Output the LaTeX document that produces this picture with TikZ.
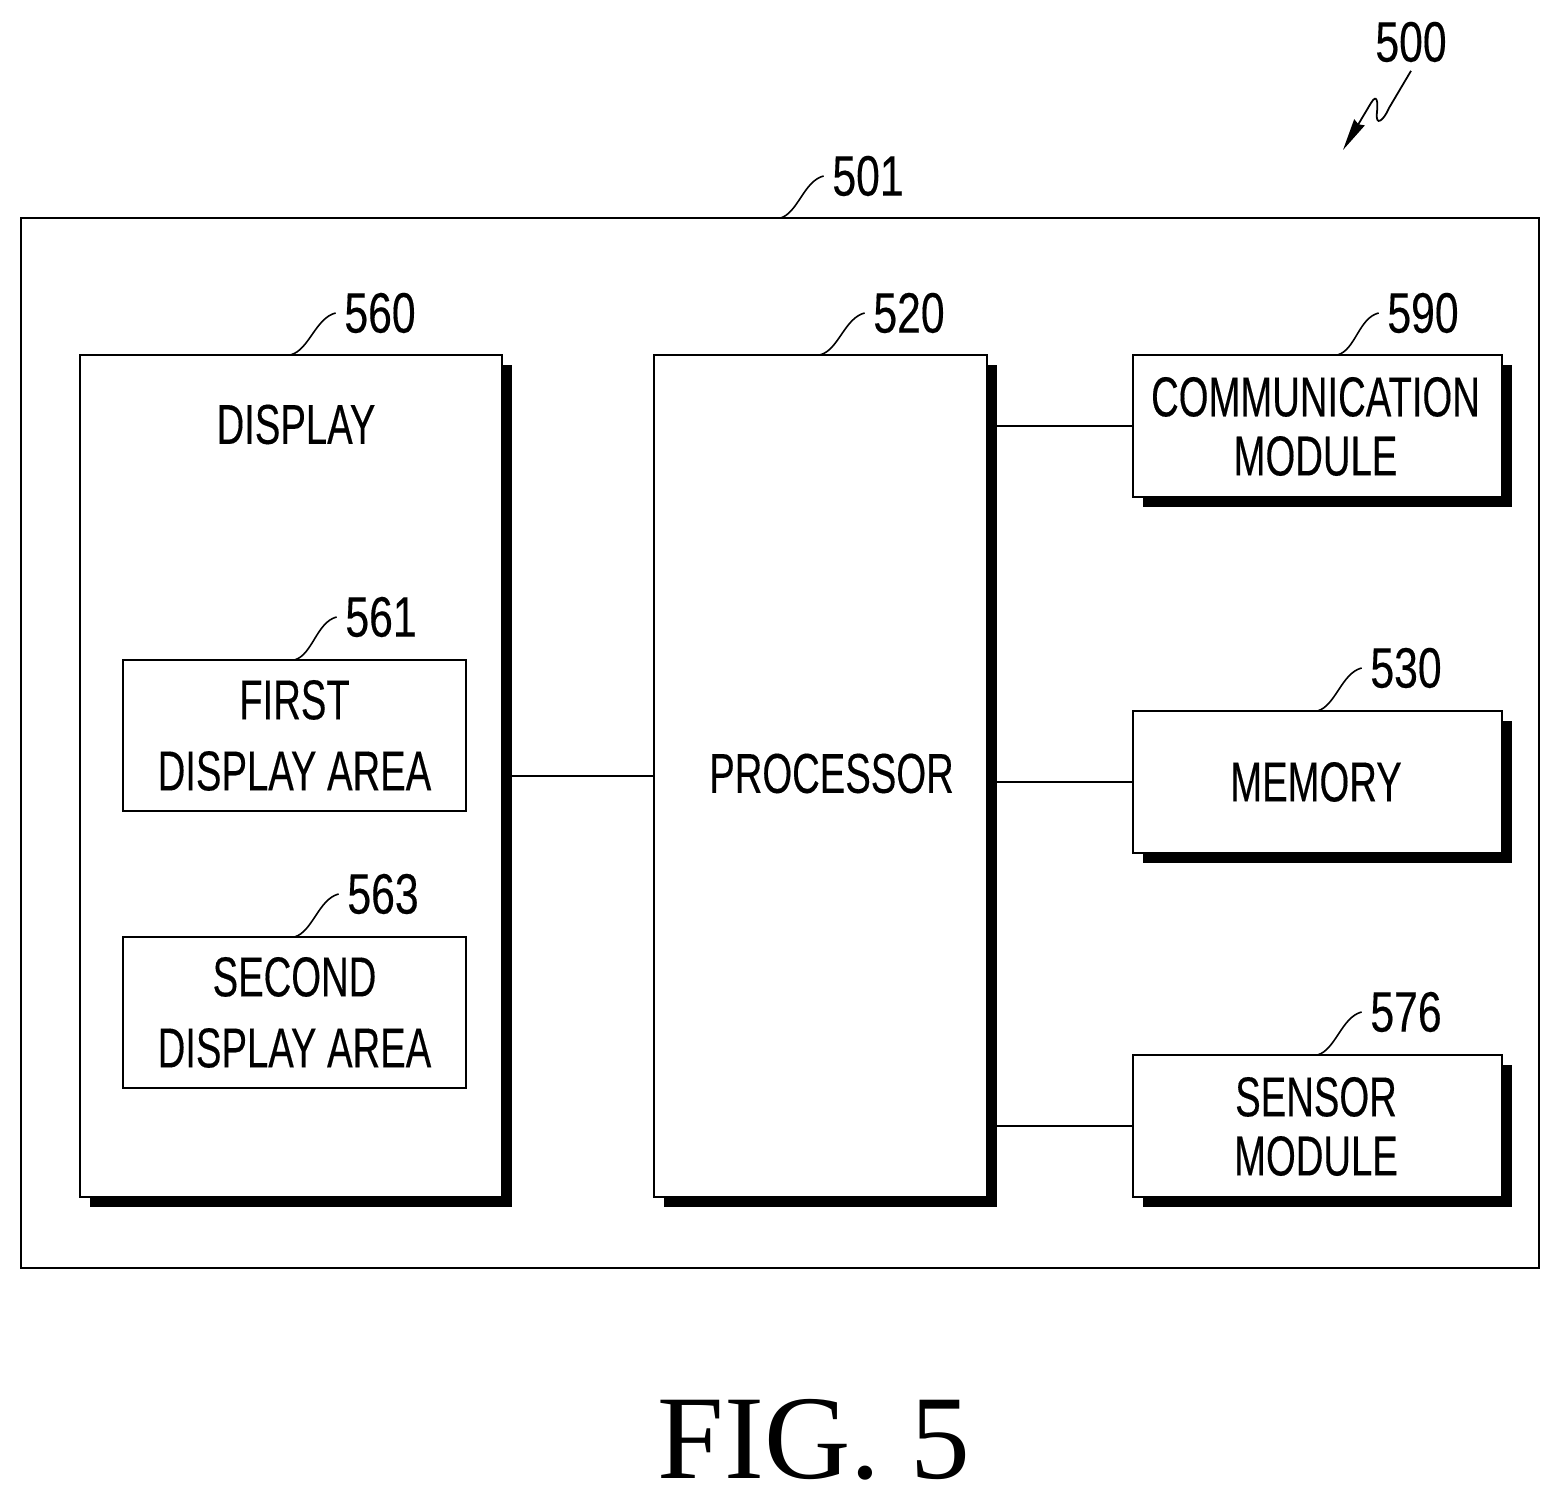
\documentclass[tikz,border=0pt]{standalone}
\usepackage{fontspec}
\usetikzlibrary{arrows.meta, shadows}
\newfontfamily\boxfamily[FakeStretch=0.68, FakeBold=0.25]{Liberation Sans}
\newfontfamily\reffamily[FakeStretch=0.75, FakeBold=0.25]{Liberation Sans}
\newfontfamily\figfamily{Liberation Serif}
\tikzset{
blockbox/.style={shape=rectangle, draw, line width=0.65pt, fill=white, inner sep=0pt, outer sep=0pt, align=center},
shadowbox/.style={blockbox, general shadow={shadow xshift=0.1cm, shadow yshift=-0.1cm, fill=black}},
boxtext/.style={font=\boxfamily\fontsize{16}{16.8}\selectfont},
areatext/.style={font=\boxfamily\fontsize{16}{20.2}\selectfont},
reflabel/.style={font=\reffamily\fontsize{16.2}{18}\selectfont, inner sep=0.08cm},
leadline/.style={line width=0.45pt, to path={.. controls +(18,-5) and +(-20,5) .. (\tikztotarget)}},
edge/.style={line width=0.65pt}
}

\begin{document}
\begin{tikzpicture}[x=0.01cm,y=-0.01cm]
		\useasboundingbox (0,0) rectangle (1560,1501);

		\node[blockbox, fill=none, minimum width=15.17cm, minimum height=10.49cm] (device) at (780,743) {};

		\node[shadowbox, minimum width=4.22cm, minimum height=8.42cm] (display) at (291,776) {};
		\node[shadowbox, minimum width=3.33cm, minimum height=8.42cm] (processor) at (820.5,776) {};
		\node[shadowbox, boxtext, minimum width=3.69cm, minimum height=1.42cm] (comm) at (1317.5,426) {};
		\node[shadowbox, boxtext, minimum width=3.69cm, minimum height=1.42cm] (memory) at (1317.5,782) {};
		\node[shadowbox, boxtext, minimum width=3.69cm, minimum height=1.42cm] (sensor) at (1317.5,1126) {};

		\node[blockbox, areatext, minimum width=3.43cm, minimum height=1.51cm] (first) at (294.5,735.5) {FIRST\\DISPLAY AREA};
		\node[blockbox, areatext, minimum width=3.43cm, minimum height=1.51cm] (second) at (294.5,1012.5) {SECOND\\DISPLAY AREA};

		\node[boxtext, align=center] (commtext) at (1315.5,426.5) {COMMUNICATION\\MODULE};
		\node[boxtext, align=center] (sensortext) at (1316,1126.5) {SENSOR\\MODULE};
		\node[boxtext] (memorytext) at (1316,782) {MEMORY};
		\node[boxtext] (displaytext) at (296,424.5) {DISPLAY};
		\node[boxtext] (processortext) at (831.5,773.5) {PROCESSOR};

		\draw[edge] (display.east) to (processor.west);
		\draw[edge] (processor.east |- comm.west) to (comm.west);
		\draw[edge] (processor.east |- memory.west) to (memory.west);
		\draw[edge] (processor.east |- sensor.west) to (sensor.west);

		\node[reflabel] (ref500) at (1411,42) {500};
		\node[reflabel] (ref501) at (868,176) {501};
		\node[reflabel] (ref560) at (380,313) {560};
		\node[reflabel] (ref520) at (909,313) {520};
		\node[reflabel] (ref590) at (1423,313) {590};
		\node[reflabel] (ref530) at (1406,668) {530};
		\node[reflabel] (ref576) at (1406,1012) {576};
		\node[reflabel] (ref561) at (381,617) {561};
		\node[reflabel] (ref563) at (383,894) {563};

		\draw[leadline] (device.north) to (ref501.west);
		\draw[leadline] (display.north) to (ref560.west);
		\draw[leadline] (processor.north) to (ref520.west);
		\draw[leadline] ([xshift=0.2cm]comm.north) to (ref590.west);
		\draw[leadline] (memory.north) to (ref530.west);
		\draw[leadline] (sensor.north) to (ref576.west);
		\draw[leadline] (first.north) to (ref561.west);
		\draw[leadline] (second.north) to (ref563.west);

		\coordinate (tip500) at (1343,150);
		\draw[line width=0.5pt, -{Stealth[length=0.32cm, width=0.12cm, inset=0.02cm]}] (ref500.south)
			-- (1389,108) .. controls (1384,120) and (1375,128) .. (1377,112)
			.. controls (1378,102) and (1377,93) .. (1371,103)
			-- (tip500);

		\node[font=\figfamily\fontsize{34}{36}\selectfont, inner sep=0pt] (figlabel) at (814,1440) {FIG. 5};
	\end{tikzpicture}
\end{document}
